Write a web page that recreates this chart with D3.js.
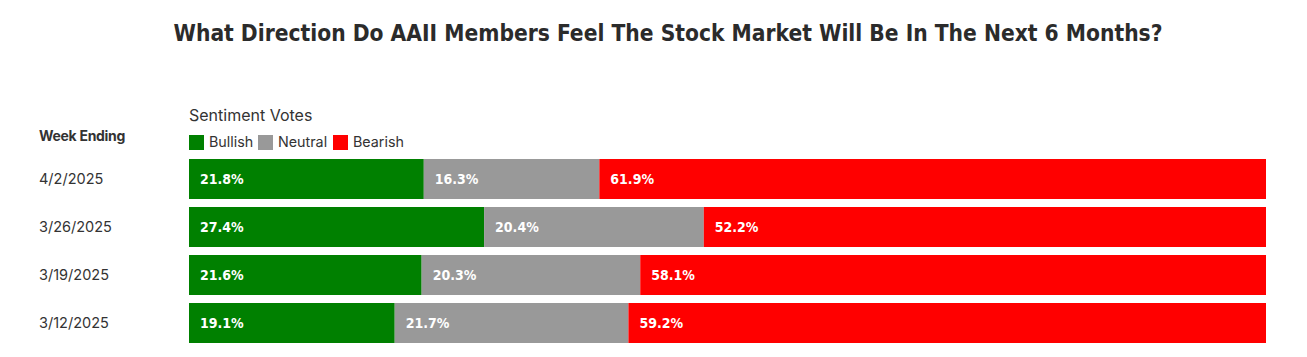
<!DOCTYPE html>
<html><head><meta charset="utf-8">
<script src="https://cdn.jsdelivr.net/npm/d3@7"></script>
<style>body{margin:0;background:#fff;}</style>
</head><body>
<svg id="c" width="1307" height="357"></svg>
<script>
const weeks = ["4/2/2025","3/26/2025","3/19/2025","3/12/2025"];
const bullish = [21.8, 27.4, 21.6, 19.1];
const neutral = [16.3, 20.4, 20.3, 21.7];
const bearish = [61.9, 52.2, 58.1, 59.2];
const seriesNames = ["Bullish","Neutral","Bearish"];
const colors = ["#008000","#999999","#ff0000"];

const svg = d3.select("#c");

svg.append("text").attr("x", 668).attr("y", 41).attr("text-anchor","middle")
  .attr("font-family","'DejaVu Sans Condensed','DejaVu Sans',sans-serif").attr("font-weight","bold")
  .attr("font-size", 23).attr("fill","#2b2b2b")
  .attr("textLength", 989).attr("lengthAdjust","spacingAndGlyphs")
  .text("What Direction Do AAII Members Feel The Stock Market Will Be In The Next 6 Months?");

const x = d3.scaleLinear().domain([0,100]).range([189,1266]);
const y = d3.scaleBand().domain(weeks).range([155,347]).paddingInner(0.1667).paddingOuter(0.0833);

const rows = weeks.map((w,i)=>({week:w, Bullish:bullish[i], Neutral:neutral[i], Bearish:bearish[i]}));
const stack = d3.stack().keys(seriesNames)(rows);

svg.append("text").attr("x",189).attr("y",121).attr("font-family","Inter, sans-serif")
  .attr("font-size",16).attr("fill","#333").text("Sentiment Votes");
svg.append("text").attr("x",39).attr("y",141).attr("font-family","Inter, sans-serif")
  .attr("font-size",14).attr("font-weight","bold").attr("fill","#333").attr("letter-spacing","-0.3").text("Week Ending");

// legend
const legX = [189, 258, 333];
seriesNames.forEach((s,i)=>{
  svg.append("rect").attr("x",legX[i]).attr("y",135).attr("width",15).attr("height",15).attr("fill",colors[i]);
  svg.append("text").attr("x",legX[i]+20).attr("y",147).attr("font-family","Inter, sans-serif")
    .attr("font-size",14.3).attr("fill","#333").text(s);
});

// y axis labels
svg.append("g").selectAll("text").data(weeks).join("text")
  .attr("x",39).attr("y",d=>y(d)+y.bandwidth()/2+5)
  .attr("font-family","Inter, sans-serif").attr("font-size",14.5).attr("fill","#333").text(d=>d);

const g = svg.append("g");
stack.forEach((layer,li)=>{
  g.append("g").selectAll("rect").data(layer).join("rect")
    .attr("x",d=>x(d[0])).attr("y",d=>y(d.data.week))
    .attr("width",d=>x(d[1])-x(d[0])).attr("height",y.bandwidth()).attr("fill",colors[li]);
  g.append("g").selectAll("text").data(layer).join("text")
    .attr("x",d=>x(d[0])+11).attr("y",d=>y(d.data.week)+y.bandwidth()/2+5)
    .attr("font-family","'DejaVu Sans Condensed','DejaVu Sans',sans-serif").attr("font-weight","bold")
    .attr("font-size",14).attr("fill","#fff")
    .text(d=>(d[1]-d[0]).toFixed(1)+"%");
});
</script>
</body></html>
